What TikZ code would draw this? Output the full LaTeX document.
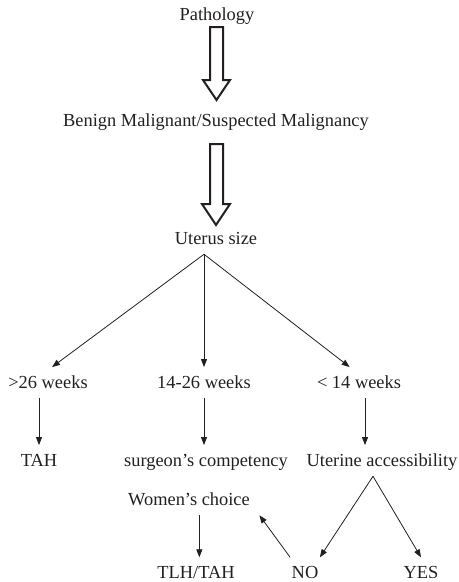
\documentclass[tikz,border=0pt]{standalone}
\usepackage{fontspec}
\setmainfont{Liberation Serif}
\usetikzlibrary{arrows.meta}
\definecolor{ink}{RGB}{35,31,32}
\tikzset{
  lbl/.style={anchor=base, inner xsep=1pt, inner ysep=5.5pt, text height=10pt, text depth=2pt, text=ink, font=\fontsize{13.8}{16}\selectfont},
  lastrow/.style={lbl, text depth=0pt, inner ysep=0pt, outer ysep=5.5pt},
  conn/.style={draw=ink, line width=0.6pt, -{Triangle[length=6pt,width=4.5pt]}},
  hollow/.style={draw=ink, line width=1.5pt, line join=miter, fill=white}
}
\begin{document}
\begin{tikzpicture}[x=0.75pt,y=0.75pt,yscale=-1,xscale=1]
    \useasboundingbox (0,0) rectangle (459,582);
    % Text Node
    \node[lbl] (path) at (217,20) {Pathology};
    % Text Node
    \node[lbl] (benign) at (216,126) {Benign Malignant/Suspected Malignancy};
    % Text Node
    \node[lbl] (uterus) at (216,244) {Uterus size};
    % Text Node
    \node[lbl] (w26) at (48,388) {>26 weeks};
    % Text Node
    \node[lbl] (w1426) at (204,388) {14-26 weeks};
    % Text Node
    \node[lbl] (w14) at (359,388) {< 14 weeks};
    % Text Node
    \node[lbl] (tah) at (39,466) {TAH};
    % Text Node
    \node[lbl] (surg) at (206,466) {surgeon’s competency};
    % Text Node
    \node[lbl] (acc) at (382,466) {Uterine accessibility};
    % Text Node
    \node[lbl] (women) at (189,505) {Women’s choice};
    % Text Node
    \node[lastrow] (tlh) at (196,578) {TLH/TAH};
    % Text Node
    \node[lastrow] (no) at (305,578) {NO};
    % Text Node
    \node[lastrow] (yes) at (421,578) {YES};
    %Shape: Hollow Arrow
    \draw[hollow] (210,27) -- (223,27) -- (223,80) -- (230,80) -- (216.5,100) -- (203,80) -- (210,80) -- cycle ;
    %Shape: Hollow Arrow
    \draw[hollow] (210,144) -- (223,144) -- (223,204) -- (230,204) -- (216,225) -- (202,204) -- (210,204) -- cycle ;
    % Straight Lines
    \draw[conn] (uterus.south -| w1426.north) -- ([xshift=3pt]w26.north);
    \draw[conn] (uterus.south -| w1426.north) -- (w1426.north);
    \draw[conn] (uterus.south -| w1426.north) -- ([xshift=-7pt]w14.north);
    \draw[conn] (w26.south -| tah.north) -- (tah.north);
    \draw[conn] (w1426.south) -- (w1426.south |- surg.north);
    \draw[conn] ([xshift=4.5pt]w14.south) -- ([xshift=4.5pt]w14.south |- acc.north);
    \draw[conn] ([xshift=-6.75pt]acc.south) -- (no.north east);
    \draw[conn] ([xshift=-6.75pt]acc.south) -- (yes.north);
    \draw[conn] (no.north west) -- ([xshift=6pt]women.south east);
    \draw[conn] ([xshift=2.5pt]tlh.north |- women.south) -- ([xshift=2.5pt]tlh.north);
\end{tikzpicture}
\end{document}
